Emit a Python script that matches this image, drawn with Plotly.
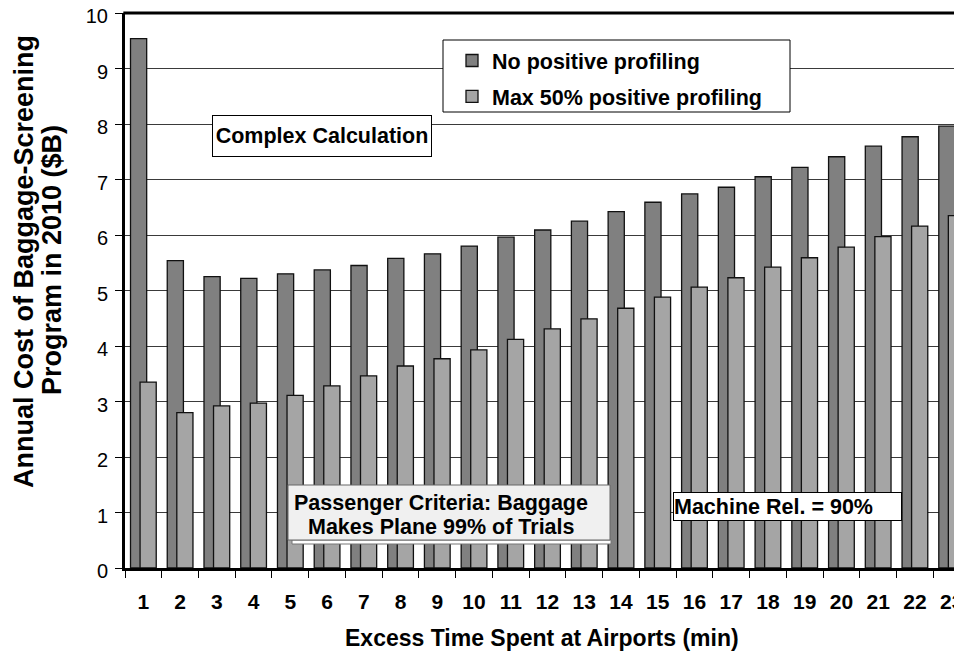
import plotly.graph_objects as go

minutes = [str(i) for i in range(1, 24)]
no_profiling = [9.54, 5.54, 5.25, 5.22, 5.30, 5.37, 5.45, 5.58, 5.66, 5.80, 5.96, 6.09,
                6.25, 6.42, 6.59, 6.74, 6.86, 7.05, 7.22, 7.41, 7.60, 7.77, 7.96]
max50_profiling = [3.35, 2.80, 2.92, 2.97, 3.11, 3.28, 3.46, 3.64, 3.77, 3.93, 4.12, 4.31,
                   4.49, 4.68, 4.88, 5.06, 5.23, 5.42, 5.59, 5.78, 5.97, 6.16, 6.35]
series_names = ["No positive profiling", "Max 50% positive profiling"]
y_ticks = list(range(0, 11))

# page body has an 8px default margin; figure is sized so that it ends at the window edge
OFF = 8
W, H = 962 - OFF, 655 - OFF
PLOT_LEFT, PLOT_TOP, PLOT_BOTTOM, PLOT_RIGHT = 125, 13, 568, 962  # in window pixels
L, T = PLOT_LEFT - OFF, PLOT_TOP - OFF
R = W - (PLOT_RIGHT - OFF)
B = H - (PLOT_BOTTOM - OFF)
PW = PLOT_RIGHT - PLOT_LEFT
PH = PLOT_BOTTOM - PLOT_TOP


def px(x):
    return (x - PLOT_LEFT) / PW


def py(y):
    return (PLOT_BOTTOM - y) / PH


FONT = "Arial, Liberation Sans, sans-serif"
TXT = 21.5

fig = go.Figure()
fig.add_trace(go.Bar(
    x=minutes, y=no_profiling, name=series_names[0], legendgroup="a",
    marker=dict(color="#808080", line=dict(color="#111111", width=1.3)),
    offset=-0.35, width=0.44,
))
fig.add_trace(go.Bar(
    x=minutes, y=max50_profiling, name=series_names[1], legendgroup="b",
    marker=dict(color="#A5A5A5", line=dict(color="#111111", width=1.3)),
    offset=-0.09, width=0.44,
))

annotations = [
    dict(text="<b>Annual Cost of Baggage-Screening</b>", textangle=-90, xref="paper", yref="paper",
         x=px(24), y=py(262), xanchor="center", yanchor="middle", showarrow=False,
         font=dict(family=FONT, size=27, color="black")),
    dict(text="<b>Program in 2010 ($B)</b>", textangle=-90, xref="paper", yref="paper",
         x=px(52), y=py(260), xanchor="center", yanchor="middle", showarrow=False,
         font=dict(family=FONT, size=27, color="black")),
    dict(text="<b>Excess Time Spent at Airports (min)</b>", xref="paper", yref="paper",
         x=px(542), y=py(638), xanchor="center", yanchor="middle", showarrow=False,
         font=dict(family=FONT, size=23, color="black")),
    dict(text="<b>Complex Calculation</b>", xref="paper", yref="paper",
         x=px(321.7), y=py(136), xanchor="center", yanchor="middle", showarrow=False,
         width=218, height=40, borderpad=0, bordercolor="black", borderwidth=1, bgcolor="white",
         font=dict(family=FONT, size=TXT, color="black")),
    dict(text="<b>Machine Rel. = 90%</b>", xref="paper", yref="paper",
         x=px(787.5), y=py(506.2), xanchor="center", yanchor="middle", showarrow=False,
         width=227, height=27, borderpad=0, bordercolor="black", borderwidth=1, bgcolor="white",
         align="left",
         font=dict(family=FONT, size=TXT, color="black")),
    dict(text="<b>Passenger Criteria: Baggage</b>", xref="paper", yref="paper",
         x=px(441), y=py(503), xanchor="center", yanchor="middle", showarrow=False,
         font=dict(family=FONT, size=TXT, color="black")),
    dict(text="<b>Makes Plane 99% of Trials</b>", xref="paper", yref="paper",
         x=px(441), y=py(526.7), xanchor="center", yanchor="middle", showarrow=False,
         font=dict(family=FONT, size=TXT, color="black")),
]

shapes = [
    # top frame line of the plot area
    dict(type="line", xref="paper", yref="paper", x0=-0.002, x1=1, y0=1, y1=1,
         line=dict(color="black", width=3), layer="above"),
    # legend frame
    dict(type="rect", xref="paper", yref="paper", x0=px(443), x1=px(790), y0=py(112), y1=py(40),
         fillcolor="white", line=dict(color="black", width=1), layer="above"),
    # passenger criteria box with its shadow strip
    dict(type="rect", xref="paper", yref="paper", x0=px(292), x1=px(611), y0=py(544), y1=py(540),
         fillcolor="white", line=dict(color="#777777", width=1), layer="above"),
    dict(type="rect", xref="paper", yref="paper", x0=px(288), x1=px(610), y0=py(540), y1=py(485),
         fillcolor="#F0F0F0", line=dict(color="#666666", width=1), layer="above"),
]

fig.update_layout(
    width=W, height=H,
    margin=dict(l=L, r=R, t=T, b=B, pad=0, autoexpand=False),
    paper_bgcolor="white", plot_bgcolor="white",
    barmode="overlay",
    showlegend=True,
    legend=dict(
        x=px(442), y=py(40), xanchor="left", yanchor="top",
        borderwidth=0, bgcolor="rgba(0,0,0,0)",
        font=dict(family=FONT, size=TXT, color="black", weight="bold"),
        tracegroupgap=5, indentation=10,
    ),
    xaxis=dict(
        type="category", categoryorder="array", categoryarray=minutes,
        range=[-0.5, -0.5 + PW / 36.74], automargin=False,
        showline=True, linecolor="black", linewidth=3,
        ticks="outside", ticklen=7, tickwidth=1, tickcolor="black", tickson="boundaries",
        tickfont=dict(family=FONT, size=21, color="black", weight="bold"),
        ticklabelstandoff=13,
        showgrid=False, zeroline=False,
    ),
    yaxis=dict(
        range=[0, 10], tickvals=y_ticks, ticktext=[str(v) for v in y_ticks], automargin=False,
        showline=True, linecolor="black", linewidth=3,
        ticks="outside", ticklen=7, tickwidth=1, tickcolor="black",
        tickfont=dict(family=FONT, size=20, color="black"),
        ticklabelstandoff=3, ticklabelshift=3, ticklabeloverflow="allow",
        showgrid=True, gridcolor="#3a3a3a", gridwidth=1, zeroline=False,
    ),
    annotations=annotations,
    shapes=shapes,
)

fig.write_html("out.html")
